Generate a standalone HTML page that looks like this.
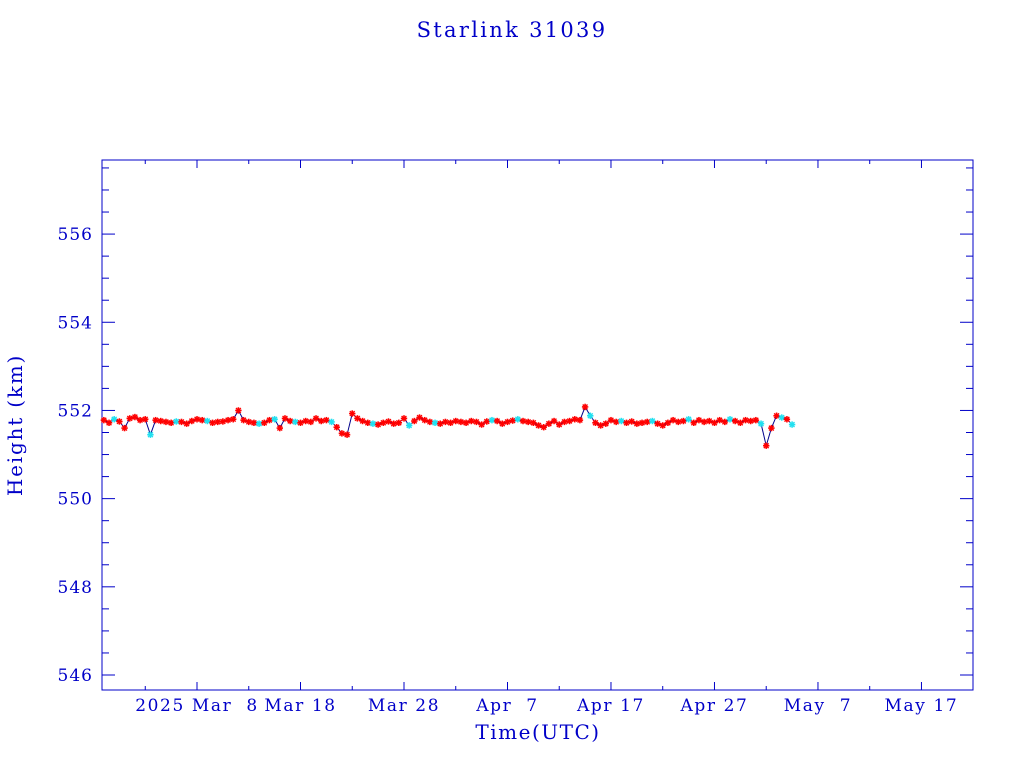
<!DOCTYPE html>
<html><head><meta charset="utf-8"><style>
body{margin:0;background:#fff}
text{font-family:"DejaVu Serif","Liberation Serif",serif;fill:#0000c8}
</style></head><body>
<svg id="chart" width="1024" height="768" xmlns="http://www.w3.org/2000/svg">
<rect width="1024" height="768" fill="#fff"/>
<text x="512" y="37" font-size="21" text-anchor="middle" letter-spacing="2.3">Starlink 31039</text>
<text x="538" y="739" font-size="20" text-anchor="middle" letter-spacing="1.5">Time(UTC)</text>
<text transform="translate(22,425) rotate(-90)" font-size="20" text-anchor="middle" letter-spacing="1.8">Height (km)</text>
<rect x="102" y="160" width="871" height="530" fill="none" stroke="#0000c8" stroke-width="1"/>
<g id="ticks"></g><g id="series"></g>
</svg>
<script>
const yTicks=[546,548,550,552,554,556];
const xTickDays=[0,10,20,30,40,50,60,70];
const xTickLabels=["2025 Mar  8","Mar 18","Mar 28","Apr  7","Apr 17","Apr 27","May  7","May 17"];
const startDay=-9;const stepDay=0.5;
const heights=[551.78,551.72,551.80,551.75,551.60,551.82,551.85,551.78,551.80,551.45,
551.78,551.76,551.74,551.72,551.75,551.74,551.70,551.76,551.80,551.78,
551.76,551.72,551.74,551.75,551.78,551.80,552.00,551.78,551.74,551.72,
551.70,551.72,551.78,551.80,551.60,551.82,551.76,551.74,551.72,551.76,
551.74,551.82,551.76,551.78,551.74,551.62,551.48,551.45,551.93,551.82,
551.76,551.72,551.70,551.68,551.72,551.75,551.70,551.72,551.82,551.66,
551.76,551.84,551.78,551.74,551.72,551.70,551.74,551.72,551.76,551.74,
551.72,551.76,551.74,551.68,551.75,551.78,551.76,551.70,551.74,551.77,
551.80,551.76,551.74,551.72,551.66,551.62,551.70,551.76,551.68,551.74,
551.76,551.80,551.78,552.08,551.88,551.72,551.66,551.70,551.78,551.74,
551.76,551.72,551.75,551.70,551.72,551.74,551.76,551.70,551.66,551.72,
551.78,551.74,551.76,551.80,551.72,551.78,551.74,551.76,551.72,551.78,
551.74,551.80,551.76,551.72,551.78,551.76,551.78,551.70,551.20,551.60,
551.88,551.84,551.80,551.68];
const cyanIdx=[2,9,14,20,30,33,37,44,52,59,64,75,80,94,100,106,113,121,127,131,133];
const X0=102,X1=973,Y0=690,Y1=160;
const dMin=-9.18,dMax=74.98,hMin=545.66,hMax=557.68;
const xs=d=>X0+(d-dMin)/(dMax-dMin)*(X1-X0);
const ys=h=>Y0-(h-hMin)/(hMax-hMin)*(Y0-Y1);
const NS="http://www.w3.org/2000/svg";
const tg=document.getElementById('ticks'),sg=document.getElementById('series');
function ln(g,x1,y1,x2,y2,c,w){const l=document.createElementNS(NS,'line');l.setAttribute('x1',x1);l.setAttribute('y1',y1);l.setAttribute('x2',x2);l.setAttribute('y2',y2);l.setAttribute('stroke',c);l.setAttribute('stroke-width',w||1);g.appendChild(l);return l;}
for(let h=546;h<=557.5;h+=0.5){const y=ys(h);const maj=Math.abs(h%2)<1e-6;const L=maj?13:7;
const a=ln(tg,X0,y,X0+L,y,'#0000c8');


const b=ln(tg,X1-L,y,X1,y,'#0000c8');

}
yTicks.forEach(h=>{const t=document.createElementNS(NS,'text');t.setAttribute('x',93);t.setAttribute('y',ys(h)+6);t.setAttribute('font-size','17');t.setAttribute('letter-spacing','1');t.setAttribute('text-anchor','end');t.textContent=h;


tg.appendChild(t);});
for(let d=-5;d<=dMax;d+=5){const x=xs(d);const maj=(d%10===0);const L=maj?8:4;
const a=ln(tg,x,Y0,x,Y0-L,'#0000c8');


const b=ln(tg,x,Y1,x,Y1+L,'#0000c8');

}
xTickDays.forEach((d,i)=>{const t=document.createElementNS(NS,'text');t.setAttribute('x',xs(d));t.setAttribute('y',711);t.setAttribute('font-size','17');t.setAttribute('letter-spacing','1.6');t.setAttribute('text-anchor','middle');t.setAttribute('xml:space','preserve');t.style.whiteSpace='pre';t.textContent=xTickLabels[i];


tg.appendChild(t);});
const pts=heights.map((h,i)=>[xs(startDay+i*stepDay),ys(h)]);
const pl=document.createElementNS(NS,'polyline');pl.setAttribute('points',pts.map(p=>p.join(',')).join(' '));pl.setAttribute('fill','none');pl.setAttribute('stroke','#00008b');pl.setAttribute('stroke-width','1');


sg.appendChild(pl);
pts.forEach((p,i)=>{const c=cyanIdx.includes(i)?'#22e0f0':'#ff0000';const g=document.createElementNS(NS,'g');


const r=3.2;ln(g,p[0]-r,p[1],p[0]+r,p[1],c,1.6);ln(g,p[0],p[1]-r,p[0],p[1]+r,c,1.6);ln(g,p[0]-r*0.75,p[1]-r*0.75,p[0]+r*0.75,p[1]+r*0.75,c,1.4);ln(g,p[0]-r*0.75,p[1]+r*0.75,p[0]+r*0.75,p[1]-r*0.75,c,1.4);sg.appendChild(g);});
</script>
</body></html>
